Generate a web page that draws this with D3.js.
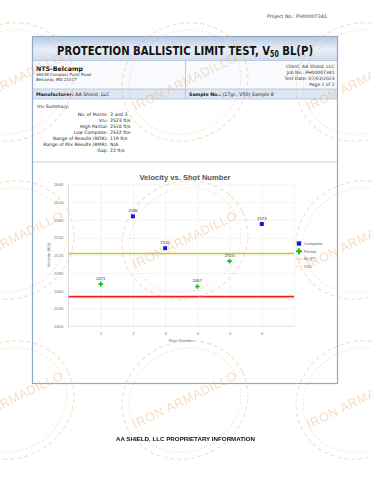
<!DOCTYPE html>
<html>
<head>
<meta charset="utf-8">
<script src="https://cdn.jsdelivr.net/npm/d3@7"></script>
<style>
  body { margin: 0; background: #fff; }
  svg { display: block; }
</style>
</head>
<body>
<div class="root"></div>
<script>
// ---- data ----
var shots      = [1, 2, 3, 4, 5, 6];
var velocities = [2471, 2586, 2532, 2467, 2510, 2573];
var results    = ['Partial', 'Complete', 'Complete', 'Partial', 'Partial', 'Complete'];
var v50 = 2523,
    blp = 2450;
var yTicks = [2400, 2430, 2460, 2490, 2520, 2550, 2580, 2610, 2640];
var xTicks = [1, 2, 3, 4, 5, 6];
var legendItems = ['Complete', 'Partial', 'BL(P)', 'V50'];

var summaryLabels = ['No. of Points:', 'V50:', 'High Partial:', 'Low Complete:',
                     'Range of Results (ROR):', 'Range of Mix Results (RMR):', 'Gap:'];
var summaryValues = ['3 and 3', '2523 ft/s', '2510 ft/s', '2532 ft/s', '119 ft/s', 'N/A', '22 ft/s'];
var clientLines  = ['Client: AA Shield, LLC', 'Job No.: PH00007341', 'Test Date: 07/03/2023', 'Page 2 of 2'];
var addressLines = ['46038 Compass Point Road', 'Belcamp, MD 21017'];

var W = 371, H = 480;
var hdrFont = '"DejaVu Sans", Verdana, sans-serif',
    chFont  = '"Liberation Sans", Arial, sans-serif';

var svg = d3.select('.root').append('svg')
            .attr('width', W)
            .attr('height', H);

var defs = svg.append('defs');
var grad = defs.append('linearGradient').attr('id', 'titleGrad')
               .attr('x1', 0).attr('y1', 0).attr('x2', 0).attr('y2', 1);
grad.append('stop').attr('offset', '0%').attr('stop-color', '#b7c9e2');
grad.append('stop').attr('offset', '55%').attr('stop-color', '#e9eff8');
grad.append('stop').attr('offset', '100%').attr('stop-color', '#cfdbec');

// helper: write "V50" with subscript then the rest
function v50Text(t, rest, subSize) {
  t.append('tspan').text('V');
  t.append('tspan').attr('font-size', subSize).attr('dy', subSize * 0.3).text('50');
  t.append('tspan').attr('dy', -subSize * 0.3).text(rest);
}

// ---- page header ----
svg.append('text')
   .attr('x', 327).attr('y', 17.5)
   .attr('text-anchor', 'end')
   .attr('font-family', hdrFont).attr('font-size', 4.8).attr('fill', '#333')
   .text('Project No.: PH00007341');

// ---- report box ----
var box = { x: 32.5, y: 36.5, w: 305, h: 347 };
var border = '#93a9cb', inner = '#aebfd8';

svg.append('rect').attr('x', box.x).attr('y', box.y).attr('width', box.w).attr('height', 24)
   .attr('fill', 'url(#titleGrad)');
svg.append('rect').attr('x', box.x).attr('y', 60.5).attr('width', box.w).attr('height', 28.5)
   .attr('fill', '#f8fafd');
svg.append('rect').attr('x', box.x).attr('y', 89).attr('width', box.w).attr('height', 10)
   .attr('fill', '#dde6f2');

[60.5, 89, 99, 162].forEach(function (yy) {
  svg.append('line').attr('x1', box.x).attr('x2', box.x + box.w)
     .attr('y1', yy).attr('y2', yy).attr('stroke', inner).attr('stroke-width', 0.8);
});
svg.append('line').attr('x1', 185.5).attr('x2', 185.5).attr('y1', 60.5).attr('y2', 99)
   .attr('stroke', inner).attr('stroke-width', 0.8);
svg.append('rect').attr('x', box.x).attr('y', box.y).attr('width', box.w).attr('height', box.h)
   .attr('fill', 'none').attr('stroke', border).attr('stroke-width', 1.2);

var title = svg.append('text')
   .attr('x', 185).attr('y', 55)
   .attr('text-anchor', 'middle')
   .attr('font-family', hdrFont).attr('font-weight', 'bold').attr('font-size', 13)
   .attr('fill', '#111')
   .attr('textLength', 256).attr('lengthAdjust', 'spacingAndGlyphs');
title.append('tspan').text('PROTECTION BALLISTIC LIMIT TEST, V');
title.append('tspan').attr('font-size', 8).attr('dy', 2).text('50');
title.append('tspan').attr('dy', -2).text(' BL(P)');

svg.append('text').attr('x', 36).attr('y', 70.5)
   .attr('font-family', hdrFont).attr('font-weight', 'bold').attr('font-size', 6.3)
   .attr('fill', '#111').text('NTS-Belcamp');
svg.selectAll('.addr').data(addressLines).enter().append('text')
   .attr('x', 36).attr('y', function (d, i) { return 76 + i * 5; })
   .attr('font-family', hdrFont).attr('font-style', 'italic').attr('font-size', 4)
   .attr('fill', '#333').text(function (d) { return d; });

svg.selectAll('.client').data(clientLines).enter().append('text')
   .attr('x', 334.5).attr('y', function (d, i) { return 67.8 + i * 6.2; })
   .attr('text-anchor', 'end')
   .attr('font-family', hdrFont).attr('font-size', 4.5)
   .attr('fill', '#333').text(function (d) { return d; });

var man = svg.append('text').attr('x', 36).attr('y', 96)
   .attr('font-family', hdrFont).attr('font-size', 4.7).attr('fill', '#222');
man.append('tspan').attr('font-weight', 'bold').text('Manufacturer:');
man.append('tspan').text('  AA Shield, LLC');
var smp = svg.append('text').attr('x', 189).attr('y', 96)
   .attr('font-family', hdrFont).attr('font-size', 4.7).attr('fill', '#222');
smp.append('tspan').attr('font-weight', 'bold').text('Sample No.:');
smp.append('tspan').text('  (17gr., V50) Sample 8');

// ---- summary ----
var sum = svg.append('text').attr('x', 37).attr('y', 107.5)
   .attr('font-family', hdrFont).attr('font-size', 4.6).attr('fill', '#222');
v50Text(sum, ' Summary:', 3.3);

svg.selectAll('.slab').data(summaryLabels).enter().append('text')
   .attr('x', 108).attr('y', function (d, i) { return 115.5 + i * 6; })
   .attr('text-anchor', 'end')
   .attr('font-family', hdrFont).attr('font-size', 4.6).attr('fill', '#222')
   .each(function (d) {
     var t = d3.select(this);
     if (d.indexOf('V50') === 0) v50Text(t, d.slice(3), 3.3);
     else t.text(d);
   });
svg.selectAll('.sval').data(summaryValues).enter().append('text')
   .attr('x', 110).attr('y', function (d, i) { return 115.5 + i * 6; })
   .attr('font-family', hdrFont).attr('font-size', 4.6).attr('fill', '#222')
   .text(function (d) { return d; });

// ---- chart ----
var plot = { left: 68.5, right: 294, top: 184.5, bottom: 326 };
var x = d3.scaleLinear().domain([0, 7]).range([plot.left, plot.right]);
var y = d3.scaleLinear().domain([2400, 2640]).range([plot.bottom, plot.top]);

var chart = svg.append('g');

chart.append('text').attr('x', 185).attr('y', 179.5)
     .attr('text-anchor', 'middle')
     .attr('font-family', chFont).attr('font-weight', 'bold').attr('font-size', 7.6)
     .attr('fill', '#555').text('Velocity vs. Shot Number');

var yAxis = chart.append('g')
   .attr('transform', 'translate(' + plot.left + ',0)')
   .call(d3.axisLeft(y).tickValues(yTicks).tickFormat(d3.format('d'))
           .tickSize(-(plot.right - plot.left)).tickPadding(5));
yAxis.select('.domain').remove();
yAxis.selectAll('.tick line').attr('stroke', '#ececec').attr('stroke-width', 0.6);
yAxis.selectAll('.tick text').attr('font-family', chFont).attr('font-size', 4.3).attr('fill', '#777');

var xAxis = chart.append('g')
   .attr('transform', 'translate(0,' + plot.top + ')')
   .call(d3.axisBottom(x).tickValues(xTicks.concat([7])).tickSize(plot.bottom - plot.top + 2).tickPadding(4));
xAxis.select('.domain').remove();
xAxis.selectAll('.tick line').attr('stroke', '#ececec').attr('stroke-width', 0.6);
xAxis.selectAll('.tick text')
     .attr('font-family', chFont).attr('font-size', 4.3).attr('fill', '#777')
     .text(function (d) { return d === 7 ? '' : d; });

chart.append('line').attr('x1', plot.left).attr('x2', plot.left)
     .attr('y1', plot.top).attr('y2', plot.bottom + 2)
     .attr('stroke', '#cfcfcf').attr('stroke-width', 0.7);
chart.append('line').attr('x1', plot.left).attr('x2', plot.right)
     .attr('y1', plot.bottom).attr('y2', plot.bottom)
     .attr('stroke', '#dddddd').attr('stroke-width', 0.7);

chart.append('text')
     .attr('transform', 'translate(50,' + ((plot.top + plot.bottom) / 2) + ') rotate(-90)')
     .attr('text-anchor', 'middle')
     .attr('font-family', chFont).attr('font-size', 4.3).attr('fill', '#777')
     .text('Velocity (ft/s)');
chart.append('text').attr('x', (plot.left + plot.right) / 2).attr('y', 341.5)
     .attr('text-anchor', 'middle')
     .attr('font-family', chFont).attr('font-size', 4.3).attr('fill', '#777')
     .text('Shot Number');

// reference lines
chart.append('line').attr('x1', plot.left).attr('x2', plot.right)
     .attr('y1', y(v50)).attr('y2', y(v50))
     .attr('stroke', '#c9c43a').attr('stroke-width', 1.6);
chart.append('line').attr('x1', plot.left).attr('x2', plot.right)
     .attr('y1', y(blp) + 1.2).attr('y2', y(blp) + 1.2)
     .attr('stroke', '#f7b3b3').attr('stroke-width', 1);
chart.append('line').attr('x1', plot.left).attr('x2', plot.right)
     .attr('y1', y(blp)).attr('y2', y(blp))
     .attr('stroke', '#ee1c1c').attr('stroke-width', 1.3);

// points
var cross = d3.symbol().type(d3.symbolCross).size(12);
var pts = chart.selectAll('.pt').data(shots).enter().append('g')
   .attr('transform', function (d, i) { return 'translate(' + x(d) + ',' + y(velocities[i]) + ')'; });
pts.each(function (d, i) {
  var g = d3.select(this);
  if (results[i] === 'Complete') {
    g.append('rect').attr('x', -2).attr('y', -2).attr('width', 4).attr('height', 4).attr('fill', '#0a1ee8');
  } else {
    g.append('path').attr('d', cross).attr('fill', '#11c411');
  }
  g.append('text').attr('y', -4.5).attr('text-anchor', 'middle')
   .attr('font-family', chFont).attr('font-size', 4.3).attr('fill', '#333')
   .text(velocities[i]);
});

// legend
var leg = chart.selectAll('.leg').data(legendItems).enter().append('g')
   .attr('transform', function (d, i) { return 'translate(299,' + (243.5 + i * 7.7) + ')'; });
leg.each(function (d) {
  var g = d3.select(this);
  if (d === 'Complete') {
    g.append('rect').attr('x', -2.2).attr('y', -2.2).attr('width', 4.4).attr('height', 4.4).attr('fill', '#0a1ee8');
  } else if (d === 'Partial') {
    g.append('path').attr('d', d3.symbol().type(d3.symbolCross).size(20)).attr('fill', '#11c411');
  } else {
    g.append('line').attr('x1', -3.5).attr('x2', 3.5).attr('y1', 0).attr('y2', 0)
     .attr('stroke', d === 'V50' ? '#ece9a0' : '#f4a0a0').attr('stroke-width', 0.8);
  }
  g.append('text').attr('x', 5).attr('y', 1.5)
   .attr('font-family', chFont).attr('font-size', 4.3).attr('fill', '#666')
   .text(d);
});

// ---- watermark stamps ----
var stampCols = [11, 185, 359],
    stampRows = [82, 240, 400];
var wm = svg.append('g').attr('opacity', 0.42);
stampRows.forEach(function (sy) {
  stampCols.forEach(function (sx) {
    var g = wm.append('g').attr('transform', 'translate(' + sx + ',' + sy + ') rotate(-26)');
    g.append('ellipse').attr('rx', 64).attr('ry', 58)
     .attr('fill', 'none').attr('stroke', '#e8b06e').attr('stroke-width', 1.1)
     .attr('stroke-dasharray', '4 3');
    g.append('ellipse').attr('rx', 57).attr('ry', 51)
     .attr('fill', 'none').attr('stroke', '#e8b06e').attr('stroke-width', 0.9)
     .attr('stroke-dasharray', '1.5 2');
    g.append('text').attr('text-anchor', 'middle').attr('dy', 4)
     .attr('font-family', chFont).attr('font-size', 12.5).attr('fill', '#e8b06e')
     .attr('letter-spacing', 0.6)
     .text('IRON ARMADILLO');
  });
});

// ---- footer ----
svg.append('text').attr('x', 185.5).attr('y', 440.5)
   .attr('text-anchor', 'middle')
   .attr('font-family', chFont).attr('font-weight', 'bold').attr('font-size', 6.2)
   .attr('fill', '#111')
   .text('AA SHIELD, LLC PROPRIETARY INFORMATION');
</script>
</body>
</html>
